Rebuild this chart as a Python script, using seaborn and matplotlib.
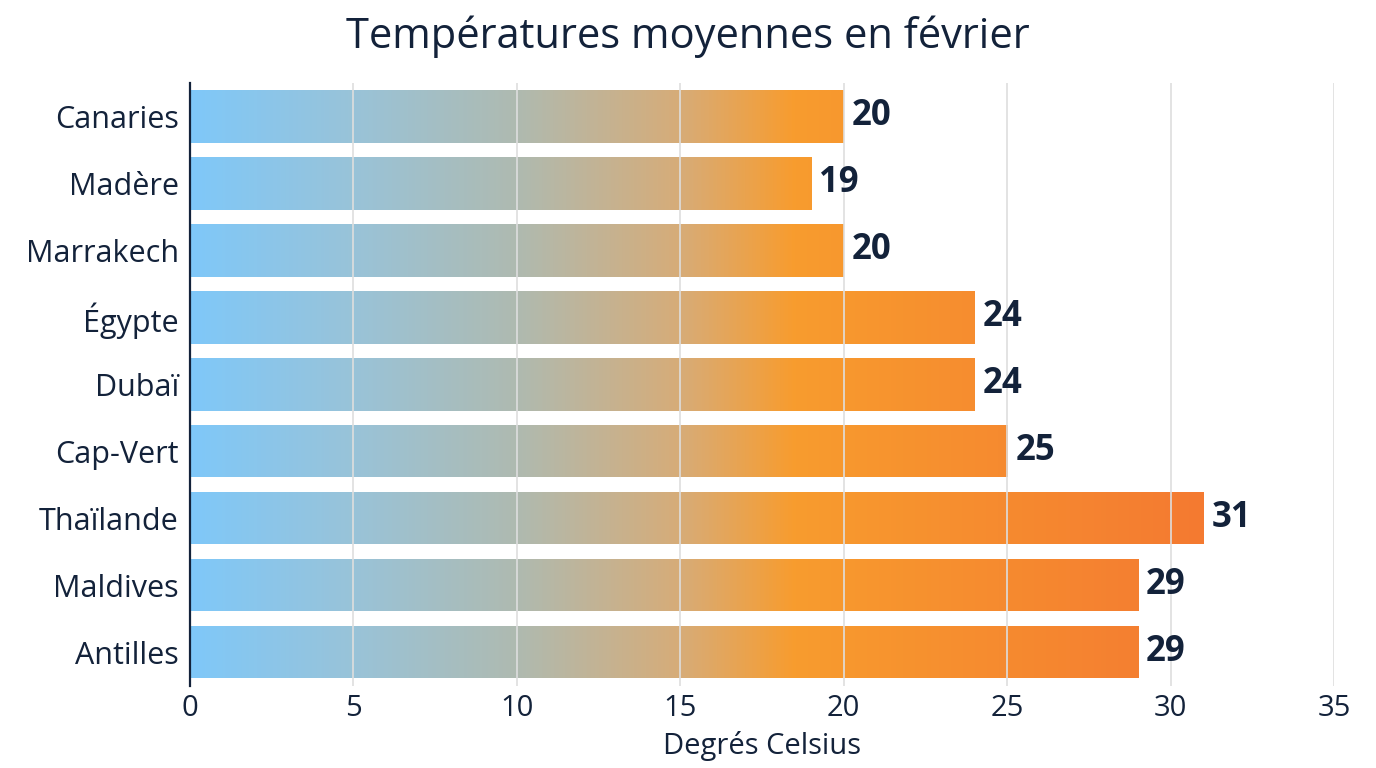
import numpy as np
import pandas as pd
import seaborn as sns
import matplotlib.pyplot as plt
from matplotlib.colors import LinearSegmentedColormap

# Data
destinations = ['Canaries', 'Madère', 'Marrakech', 'Égypte', 'Dubaï',
                'Cap-Vert', 'Thaïlande', 'Maldives', 'Antilles']
temperatures = [20, 19, 20, 24, 24, 25, 31, 29, 29]

df = pd.DataFrame({'destination': destinations, 'temp': temperatures})

sns.set_style("white")
plt.rcParams['font.family'] = ['Open Sans', 'DejaVu Sans']
navy = '#13223a'

fig = plt.figure(figsize=(13.76, 7.68), dpi=100)
ax = fig.add_axes([0.138, 0.107, 0.8315, 0.785])

sns.barplot(data=df, x='temp', y='destination', orient='h',
            width=0.78, color='white', ax=ax, zorder=2)

# gradient by absolute x value, from light blue to orange
xmax = 35
cmap = LinearSegmentedColormap.from_list(
    'warm', [(0.0, '#7fc8f9'), (5 / 31, '#99c3d8'), (10 / 31, '#afbab0'),
             (15 / 31, '#d7ac78'), (18.5 / 31, '#f89c2e'), (1.0, '#f47a31')])
grad = np.linspace(0, 1, 512).reshape(1, -1)
for p in ax.patches:
    y0, h = p.get_y(), p.get_height()
    im = ax.imshow(grad, cmap=cmap, aspect='auto', extent=[0, 31, y0 + h, y0],
                   zorder=2, interpolation='bilinear')
    im.set_clip_path(p)
    p.set_facecolor('none')
    p.set_edgecolor('none')

for x in range(5, 40, 5):
    ax.axvline(x, color='#dedede', lw=1.2, zorder=3)

for i, v in enumerate(temperatures):
    ax.text(v + 0.25, i, f'{v}', va='center', ha='left', fontsize=25,
            fontweight='bold', color=navy, zorder=4)

ax.set_xlim(0, xmax)
ax.set_ylim(8.5, -0.5)
ax.set_xticks(range(0, 40, 5))
ax.tick_params(axis='both', length=0, colors=navy)
ax.tick_params(axis='y', pad=8, labelsize=22)
ax.tick_params(axis='x', pad=6, labelsize=21)
ax.set_xlabel('Degrés Celsius', fontsize=21, color=navy, labelpad=6)
ax.set_ylabel('')
fig.suptitle('Températures moyennes en février', fontsize=30, color=navy,
             x=0.5, y=0.98, va='top')

for s in ['top', 'right', 'bottom']:
    ax.spines[s].set_visible(False)
ax.spines['left'].set_color(navy)
ax.spines['left'].set_linewidth(1.6)
ax.spines['left'].set_zorder(5)

plt.savefig('out.png', dpi=100)
plt.close()
